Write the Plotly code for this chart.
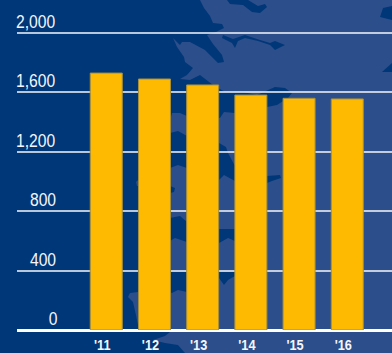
import plotly.graph_objects as go

years = ["'11", "'12", "'13", "'14", "'15", "'16"]
values = [1730, 1690, 1650, 1582, 1560, 1556]
y_ticks = [0, 400, 800, 1200, 1600, 2000]

W, H = 392, 353
L, R, T, B = 17, 0, 0, 23
DARK, LIGHT = "#003778", "#2c4e8a"
FONT = "Liberation Sans, sans-serif"

land = [(200,0),(204,8),(210,16),(213,23),(222,24),(224,28),(216,32),(207,35),(213,44),(222,55),(224,62),
        (218,63),(205,50),(190,42),(182,42),(180,45),(173,38),(177,47),(184,57),(185,62),(193,68),(187,75),
        (180,79),(190,80),(200,75),(213,85),(225,92),(243,92),(257,95),(275,87),(285,88),(292,93),(288,98),
        (277,105),(262,108),(235,113),(224,112),(220,118),(187,116),(180,113),(172,113),(170,120),(170,332),
        (165,336),(153,340),(165,343),(178,345),(185,353),(392,353),(392,0)]
water = [
    [(223,35),(233,39),(245,35),(260,40),(270,43),(275,41),(285,45),(275,50),(270,45),(258,41),(245,38),(238,41),(235,48),(232,43),(222,38)],
    [(227,0),(230,4),(243,5),(252,12),(260,13),(267,7),(265,4),(258,6),(248,0)],
    [(380,17),(383,8),(392,6),(392,20),(384,18)],
    [(382,72),(392,63),(392,72)],
    [(170,133),(178,131),(187,136),(187,168),(178,165),(170,168)],
    [(170,186),(175,188),(174,192),(170,193)],
    [(170,218),(180,216),(187,222),(187,242),(175,238),(170,241)],
    [(170,272),(187,272),(187,292),(178,290),(172,293),(170,292)],
    [(219,143),(226,147),(228,153),(235,166),(235,181),(224,175),(219,180)],
    [(219,229),(235,229),(235,241),(228,238),(219,243)],
    [(219,272),(235,272),(235,276),(228,280),(224,285),(219,278)],
    [(267,176),(280,175),(281,178),(272,181),(267,183)],
]
islands = [
    [(138,180),(136,182),(137,186),(138,186)],
    [(138,292),(130,293),(128,297),(133,302),(136,315),(138,325)],
]

PW, PH = W - L - R, H - T - B
def path(pts):
    return "M" + "L".join(f"{(x-L)/PW:.4f},{1-(y-T)/PH:.4f}" for x, y in pts) + "Z"
def shape(pts, color):
    return dict(type="path", xref="paper", yref="paper", path=path(pts), fillcolor=color,
                line=dict(width=0), layer="below")

shapes = [shape(land, LIGHT)] + [shape(p, DARK) for p in water] + [shape(p, LIGHT) for p in islands]

fig = go.Figure(go.Bar(x=years, y=values, marker=dict(color="#fdba00", line=dict(color="#a88f3a", width=1)), width=0.664))

annotations = [dict(text=f"{v:,}", x=(59.5-L)/PW, xref="paper", xanchor="right", y=v, yref="y", yanchor="bottom",
                    yshift=-1, showarrow=False, font=dict(family=FONT, size=18, color="#f4f6fa")) for v in y_ticks]

fig.update_layout(
    width=W, height=H, margin=dict(l=L, r=R, t=T, b=B, pad=0),
    paper_bgcolor=DARK, plot_bgcolor="rgba(0,0,0,0)", showlegend=False,
    shapes=shapes, annotations=annotations,
    xaxis=dict(type="category", range=[-1.852, 5.928], showgrid=False, ticks="", showline=False, zeroline=False,
               tickfont=dict(family=FONT, size=15, color="#f4f6fa", weight="bold"), automargin=False,
               ticklabelshift=-4, ticklabelstandoff=4),
    yaxis=dict(range=[0, 2222], tickvals=y_ticks, showticklabels=False, ticks="", showline=False,
               gridcolor="rgba(255,255,255,0.72)", gridwidth=1.5, zeroline=True, zerolinecolor="#ffffff", zerolinewidth=3,
               automargin=False),
)
post = """
document.body.style.margin = '0';
document.documentElement.style.overflow = 'hidden';
function narrow(sel, k) {
  document.querySelectorAll(sel).forEach(function (t) {
    t.setAttribute('lengthAdjust', 'spacingAndGlyphs');
    t.setAttribute('textLength', t.getComputedTextLength() * k);
  });
}
narrow('.annotation-text', 0.87);
narrow('.xtick text', 0.85);
"""
fig.write_html("out.html", post_script=post, config=dict(displayModeBar=False))
